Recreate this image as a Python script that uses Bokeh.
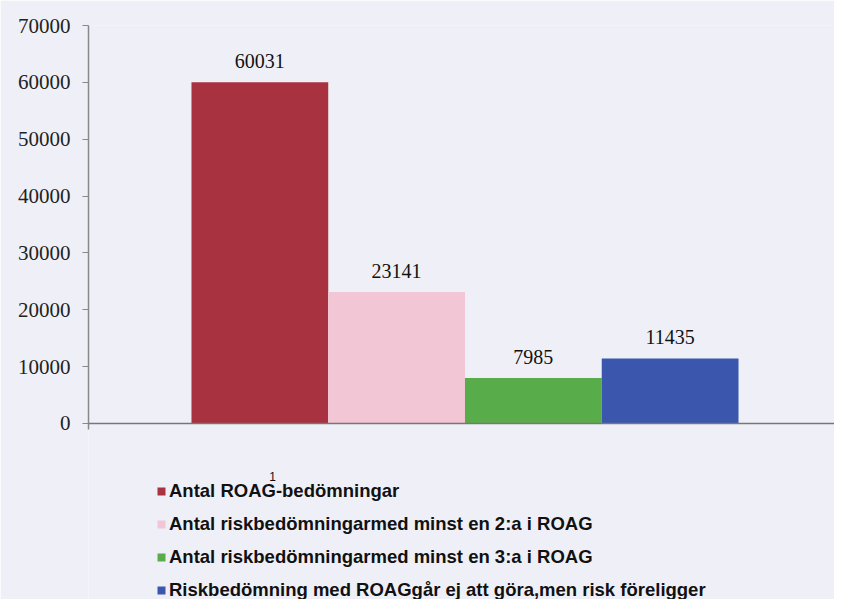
from bokeh.plotting import figure
from bokeh.models import (ColumnDataSource, Range1d, FixedTicker, LabelSet, Label,
                          Legend, LegendItem, Span)
from bokeh.embed import file_html
from bokeh.resources import INLINE

# ---- data ----
categories = [
    "Antal ROAG-bedömningar",
    "Antal riskbedömningarmed minst en 2:a i ROAG",
    "Antal riskbedömningarmed minst en 3:a i ROAG",
    "Riskbedömning med ROAGgår ej att göra,men risk föreligger",
]
positions = [1, 2, 3, 4]
values = [60031, 23141, 7985, 11435]
value_labels = ["60031", "23141", "7985", "11435"]
colors = ["#a8323f", "#f2c6d4", "#58ad4a", "#3b57ad"]
y_ticks = [0, 10000, 20000, 30000, 40000, 50000, 60000, 70000]

BG = "#eff0f7"

src = ColumnDataSource(dict(x=positions, top=values, color=colors,
                            label=value_labels, cat=categories))

p = figure(width=834, height=599, output_backend="svg", toolbar_location=None,
           x_range=Range1d(-0.253, 5.202), y_range=Range1d(-30955, 70000),
           min_border_left=88, min_border_right=0, min_border_top=25,
           min_border_bottom=0)
p.background_fill_color = BG
p.border_fill_color = BG
p.outline_line_color = None
p.grid.visible = False

r = p.vbar(x="x", top="top", width=1.0, fill_color="color", line_color=None,
           source=src)

# y axis
p.yaxis.ticker = FixedTicker(ticks=y_ticks)
p.yaxis.bounds = (-1100, 70000)
p.yaxis.axis_line_color = "#888888"
p.yaxis.axis_line_width = 1.5
p.yaxis.major_tick_line_color = "#888888"
p.yaxis.major_tick_out = 6
p.yaxis.major_tick_in = 0
p.yaxis.minor_tick_line_color = None
p.yaxis.major_label_text_font = "Liberation Serif"
p.yaxis.major_label_text_font_size = "21px"
p.yaxis.major_label_text_color = "#222222"
p.yaxis.major_label_standoff = 12

# no x axis; base line at zero
p.xaxis.visible = False
p.add_layout(Span(location=0, dimension="width", line_color="#777777",
                  line_width=1.5))

labels = LabelSet(x="x", y="top", text="label", source=src, y_offset=14,
                  text_align="center", text_baseline="alphabetic",
                  text_font="Liberation Serif", text_font_size="20px",
                  text_color="#111111")
p.add_layout(labels)

legend = Legend(items=[LegendItem(label=categories[i], renderers=[r], index=i)
                       for i in range(len(categories))],
                location=(68, -2),
                label_text_font="Liberation Sans", label_text_font_style="bold",
                label_text_font_size="18.5px", label_text_color="#111111",
                glyph_width=10, glyph_height=10, label_height=20, spacing=11,
                padding=0, margin=0, label_standoff=3,
                border_line_color=None, background_fill_alpha=0)
p.add_layout(legend)

sup = Label(x=1.0925, y=-9320, text="1", text_font="Liberation Sans",
            text_font_size="12px", text_align="center", text_baseline="middle",
            text_color="#111111")
p.add_layout(sup)

open("out.html", "w").write(file_html(p, INLINE))
